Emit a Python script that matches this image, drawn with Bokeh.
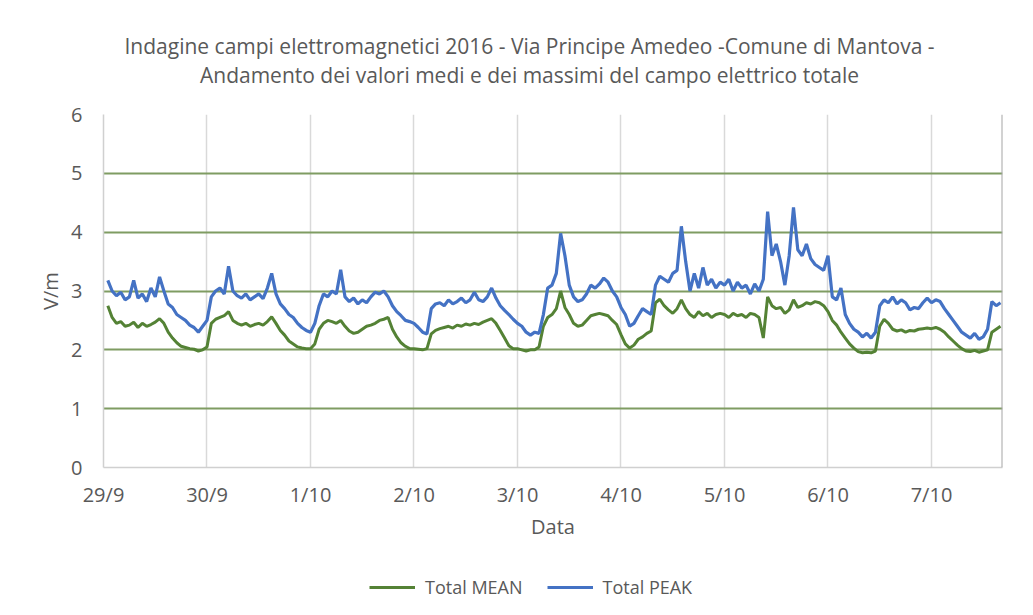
import numpy as np
import pandas as pd
from bokeh.plotting import figure
from bokeh.layouts import column
from bokeh.models import Range1d, FixedTicker, Span, Label, Legend, LegendItem
from bokeh.embed import file_html
from bokeh.resources import INLINE

title_line1 = "Indagine campi elettromagnetici 2016 - Via Principe Amedeo -Comune di Mantova -"
title_line2 = "Andamento dei valori medi e dei massimi del campo elettrico totale"
tick_labels = ["29/9", "30/9", "1/10", "2/10", "3/10", "4/10", "5/10", "6/10", "7/10"]
y_label = "V/m"
x_label = "Data"
series_names = ["Total MEAN", "Total PEAK"]
first_reading = "2016-09-29 01:00"   # hourly readings

# Total MEAN (V/m), hourly
mean_29_9 = [2.75, 2.55, 2.45, 2.48, 2.40, 2.42, 2.47, 2.38, 2.45, 2.40, 2.43, 2.47, 2.53, 2.45,
             2.30, 2.20, 2.12, 2.06, 2.04, 2.02, 2.01, 1.98, 2.00]
mean_30_9 = [2.05, 2.45, 2.52, 2.55, 2.58, 2.65, 2.50, 2.45, 2.42, 2.45, 2.40, 2.43, 2.45, 2.42,
             2.48, 2.56, 2.45, 2.33, 2.25, 2.15, 2.10, 2.05, 2.03, 2.02]
mean_1_10 = [2.02, 2.10, 2.35, 2.45, 2.50, 2.48, 2.45, 2.50, 2.40, 2.32, 2.28, 2.30, 2.35, 2.40,
             2.42, 2.45, 2.50, 2.52, 2.55, 2.35, 2.22, 2.12, 2.06, 2.02]
mean_2_10 = [2.02, 2.01, 2.00, 2.02, 2.27, 2.33, 2.36, 2.38, 2.40, 2.37, 2.42, 2.40, 2.44, 2.42,
             2.45, 2.43, 2.47, 2.50, 2.53, 2.45, 2.33, 2.20, 2.07, 2.02]
mean_3_10 = [2.02, 2.00, 1.98, 2.00, 2.00, 2.05, 2.40, 2.55, 2.60, 2.70, 3.00, 2.72, 2.60, 2.45,
             2.40, 2.42, 2.50, 2.58, 2.60, 2.62, 2.60, 2.58, 2.50, 2.43]
mean_4_10 = [2.26, 2.10, 2.03, 2.08, 2.18, 2.22, 2.28, 2.32, 2.80, 2.86, 2.75, 2.68, 2.62, 2.70,
             2.85, 2.70, 2.60, 2.55, 2.65, 2.58, 2.62, 2.55, 2.60, 2.62]
mean_5_10 = [2.60, 2.55, 2.62, 2.58, 2.60, 2.55, 2.62, 2.60, 2.55, 2.20, 2.90, 2.75, 2.70, 2.72,
             2.62, 2.68, 2.85, 2.72, 2.75, 2.80, 2.78, 2.82, 2.80, 2.75]
mean_6_10 = [2.65, 2.50, 2.42, 2.30, 2.20, 2.10, 2.03, 1.97, 1.95, 1.96, 1.95, 1.98, 2.40, 2.52,
             2.45, 2.35, 2.32, 2.34, 2.30, 2.33, 2.32, 2.35, 2.36, 2.37]
mean_7_10 = [2.36, 2.38, 2.35, 2.30, 2.22, 2.15, 2.08, 2.02, 1.98, 1.97, 1.99, 1.96, 1.98, 2.00,
             2.30, 2.35, 2.40]

# Total PEAK (V/m), hourly
peak_29_9 = [3.18, 3.00, 2.92, 2.98, 2.85, 2.90, 3.18, 2.88, 2.95, 2.82, 3.05, 2.90, 3.24, 3.00,
             2.78, 2.72, 2.60, 2.55, 2.50, 2.42, 2.38, 2.30, 2.40]
peak_30_9 = [2.50, 2.90, 3.00, 3.05, 2.95, 3.42, 3.00, 2.92, 2.88, 2.95, 2.85, 2.90, 2.95, 2.87,
             3.05, 3.30, 2.95, 2.78, 2.70, 2.60, 2.55, 2.45, 2.38, 2.33]
peak_1_10 = [2.30, 2.45, 2.75, 2.95, 2.90, 3.00, 2.95, 3.36, 2.90, 2.82, 2.88, 2.78, 2.85, 2.80,
             2.90, 2.98, 2.95, 3.00, 2.90, 2.75, 2.65, 2.58, 2.50, 2.48]
peak_2_10 = [2.45, 2.38, 2.30, 2.27, 2.70, 2.78, 2.80, 2.75, 2.85, 2.78, 2.82, 2.88, 2.80, 2.85,
             2.98, 2.85, 2.82, 2.90, 3.05, 2.88, 2.75, 2.67, 2.60, 2.52]
peak_3_10 = [2.45, 2.40, 2.30, 2.25, 2.30, 2.28, 2.60, 3.05, 3.10, 3.30, 3.98, 3.60, 3.10, 2.90,
             2.82, 2.85, 2.95, 3.10, 3.05, 3.12, 3.22, 3.15, 3.00, 2.90]
peak_4_10 = [2.72, 2.60, 2.40, 2.45, 2.58, 2.70, 2.65, 2.60, 3.10, 3.25, 3.20, 3.15, 3.30, 3.35,
             4.10, 3.50, 3.00, 3.30, 3.05, 3.40, 3.10, 3.20, 3.05, 3.15]
peak_5_10 = [3.10, 3.20, 3.00, 3.15, 3.05, 3.10, 2.95, 3.12, 3.00, 3.20, 4.35, 3.60, 3.80, 3.50,
             3.10, 3.60, 4.42, 3.70, 3.60, 3.80, 3.55, 3.45, 3.40, 3.35]
peak_6_10 = [3.60, 2.90, 2.85, 3.05, 2.60, 2.45, 2.35, 2.30, 2.22, 2.28, 2.20, 2.30, 2.75, 2.85,
             2.80, 2.90, 2.78, 2.85, 2.80, 2.68, 2.72, 2.70, 2.80, 2.88]
peak_7_10 = [2.80, 2.85, 2.82, 2.70, 2.60, 2.50, 2.40, 2.30, 2.25, 2.20, 2.28, 2.18, 2.22, 2.35,
             2.82, 2.75, 2.80]

total_mean = (mean_29_9 + mean_30_9 + mean_1_10 + mean_2_10 + mean_3_10 + mean_4_10
              + mean_5_10 + mean_6_10 + mean_7_10)
total_peak = (peak_29_9 + peak_30_9 + peak_1_10 + peak_2_10 + peak_3_10 + peak_4_10
              + peak_5_10 + peak_6_10 + peak_7_10)

times = pd.date_range(first_reading, periods=len(total_mean), freq="h")
day0 = pd.Timestamp("2016-09-29")
x_days = ((times - day0) / pd.Timedelta(days=1)).to_numpy()

GREEN = "#548235"
BLUE = "#4472C4"
TXT = "#595959"
FONT = "Open Sans"
W = 1017
LEFT, RIGHT = 103, 15          # frame margins shared by all strips (column aligns frames)


def blank_figure(height):
    f = figure(width=W, height=height, output_backend="svg", toolbar_location=None,
               x_range=Range1d(LEFT, W - RIGHT), y_range=Range1d(height, 0),
               x_axis_location=None, y_axis_location=None,
               min_border_left=LEFT, min_border_right=RIGHT, min_border_top=0, min_border_bottom=0)
    f.grid.visible = False
    f.outline_line_color = None
    f.background_fill_color = "white"
    f.border_fill_color = "white"
    return f


# ---- title strip ----
tf = blank_figure(100)
tf.add_layout(Label(x=529, y=45, text=title_line1, text_align="center", text_baseline="middle",
                    text_font=FONT, text_font_size="21px", text_color=TXT))
tf.add_layout(Label(x=529, y=74, text=title_line2, text_align="center", text_baseline="middle",
                    text_font=FONT, text_font_size="21px", text_color=TXT))

# ---- main chart ----
p = figure(width=W, height=443, output_backend="svg", toolbar_location=None,
           x_range=Range1d(0, 8.686), y_range=Range1d(0, 6),
           min_border_left=LEFT, min_border_right=RIGHT, min_border_top=14, min_border_bottom=76)
p.outline_line_color = None
p.background_fill_color = "white"
p.border_fill_color = "white"

r_mean = p.line(x_days, total_mean, line_color=GREEN, line_width=3)
r_peak = p.line(x_days, total_peak, line_color=BLUE, line_width=3.2)

p.xaxis.ticker = FixedTicker(ticks=list(range(len(tick_labels))))
p.xaxis.major_label_overrides = {i: t for i, t in enumerate(tick_labels)}
p.yaxis.ticker = FixedTicker(ticks=[0, 1, 2, 3, 4, 5, 6])
for ax in (p.xaxis, p.yaxis):
    ax.major_tick_line_color = None
    ax.minor_tick_line_color = None
    ax.axis_line_color = "#d0d0d0"
    ax.axis_line_width = 1.5
    ax.major_label_text_color = TXT
    ax.major_label_text_font = FONT
    ax.major_label_text_font_size = "20px"
    ax.axis_label_text_color = TXT
    ax.axis_label_text_font = FONT
    ax.axis_label_text_font_size = "20px"
    ax.axis_label_text_font_style = "normal"
p.xaxis.axis_label = x_label
p.yaxis.axis_label = y_label
p.xaxis.major_label_standoff = 7
p.xaxis.axis_label_standoff = 2
p.yaxis.major_label_standoff = 15
p.yaxis.axis_label_standoff = 4

p.ygrid.grid_line_color = "#7f9c62"
p.ygrid.grid_line_width = 2
p.xgrid.grid_line_color = "#d9d9d9"
p.xgrid.grid_line_width = 1.5

p.add_layout(Span(location=8.686, dimension="height", line_color="#a6a6a6", line_width=2))

# ---- legend strip ----
lf = blank_figure(64)
g_mean = lf.line([np.nan], [np.nan], line_color=GREEN, line_width=3)
g_peak = lf.line([np.nan], [np.nan], line_color=BLUE, line_width=3.2)
legend = Legend(items=[LegendItem(label=series_names[0], renderers=[g_mean]),
                       LegendItem(label=series_names[1], renderers=[g_peak])],
                orientation="horizontal", location=(369 - LEFT, 8), glyph_width=46, glyph_height=20,
                label_standoff=10, spacing=24, padding=0, margin=0,
                border_line_color=None, background_fill_alpha=0,
                label_text_font=FONT, label_text_font_size="18px", label_text_color=TXT)
lf.add_layout(legend, "center")

layout = column(tf, p, lf, spacing=0)
open("out.html", "w").write(file_html(layout, INLINE))
